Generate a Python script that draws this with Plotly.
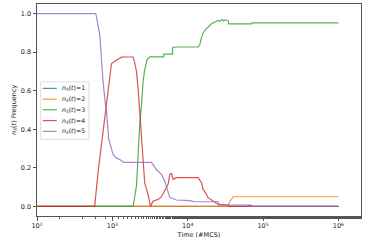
import plotly.graph_objects as go

# ---- data (time in MCS, frequency) ----
labels = ["1", "2", "3", "4", "5"]
colors = ["#1f77b4", "#ff7f0e", "#2ca02c", "#d62728", "#9467bd"]

t1 = [1, 1000000]
f1 = [0, 0]

t2 = [1, 34435, 36224, 38194, 40087, 1000000]
f2 = [0, 0, 0.027, 0.036, 0.05, 0.05]

t3 = [1, 1884, 2089, 2193, 2312, 2432, 2559, 2692, 2891, 3141, 4819, 4830, 6281, 6290,
      6745, 13740, 14488, 15240, 16032, 17219, 18664, 20701, 22909, 25351, 27000, 28500,
      30000, 32000, 34435, 35000, 70307, 71000, 1000000]
f3 = [0, 0, 0.105, 0.278, 0.43, 0.52, 0.65, 0.71, 0.76, 0.776, 0.776, 0.79, 0.79, 0.822,
      0.827, 0.827, 0.84, 0.874, 0.90, 0.917, 0.931, 0.947, 0.957, 0.965, 0.96, 0.97,
      0.962, 0.968, 0.963, 0.947, 0.947, 0.952, 0.952]

t4 = [1, 583, 646, 701, 729, 776, 817, 836, 923, 973, 1076, 1191, 1321, 1538, 1884, 1982,
      2089, 2193, 2312, 2382, 2512, 2692, 2979, 3206, 3467, 4046, 4487, 4966, 5495, 5781,
      6095, 6397, 7096, 13740, 15240, 16032, 17219, 18664, 20701, 22909, 25351, 34435,
      35500, 63387, 64000, 70307, 71000, 1000000]
f4 = [0, 0, 0.176, 0.287, 0.33, 0.416, 0.50, 0.53, 0.68, 0.74, 0.753, 0.762, 0.774, 0.775,
      0.775, 0.745, 0.70, 0.615, 0.49, 0.416, 0.243, 0.12, 0.062, 0.0, 0.027, 0.036, 0.05,
      0.08, 0.114, 0.166, 0.17, 0.14, 0.149, 0.149, 0.123, 0.088, 0.071, 0.045, 0.033,
      0.019, 0.01, 0.007, 0.0, 0.0, 0.005, 0.005, 0, 0]

t5 = [1, 603, 681, 716, 752, 809, 836, 895, 1021, 1132, 1253, 1429, 3304, 3855, 4487, 4966,
      5495, 5781, 7096, 10666, 12000, 25351, 26000, 63387, 64500, 1000000]
f5 = [1.0, 1.0, 0.89, 0.74, 0.65, 0.53, 0.49, 0.35, 0.27, 0.25, 0.243, 0.228, 0.228, 0.19,
      0.166, 0.13, 0.08, 0.047, 0.033, 0.03, 0.025, 0.024, 0.007, 0.007, 0, 0]

series_t = [t1, t2, t3, t4, t5]
series_f = [f1, f2, f3, f4, f5]

x_ticks = [100, 1000, 10000, 100000, 1000000]
x_ticktext = ["10<sup>2</sup>", "10<sup>3</sup>", "10<sup>4</sup>", "10<sup>5</sup>", "10<sup>6</sup>"]
y_ticks = [0.0, 0.2, 0.4, 0.6, 0.8, 1.0]
y_ticktext = ["0.0", "0.2", "0.4", "0.6", "0.8", "1.0"]

FONT = "DejaVu Sans"
fig = go.Figure()
for t, f, c in zip(series_t, series_f, colors):
    fig.add_trace(go.Scatter(x=t, y=f, mode="lines", line=dict(color=c, width=1.2),
                             opacity=0.8, showlegend=False, hoverinfo="skip"))

fig.update_layout(
    width=368, height=243,
    margin=dict(l=37, r=7, t=4, b=27),
    paper_bgcolor="white", plot_bgcolor="white",
    font=dict(family=FONT, size=6.5, color="#222"),
    showlegend=False,
)
fig.update_xaxes(type="log", range=[2, 6.3], showgrid=False, zeroline=False,
                 showline=True, mirror=True, linecolor="#555", linewidth=1,
                 ticks="outside", ticklen=3.5, tickcolor="#555", tickwidth=0.8,
                 tickvals=x_ticks, ticktext=x_ticktext,
                 minor=dict(ticks="outside", ticklen=2, tickcolor="#555", tickwidth=0.6,
                            showgrid=False),
                 tickfont=dict(size=6.5, family=FONT, color="#222"),
                 title=dict(text="Time (#MCS)", standoff=3,
                            font=dict(size=6.5, family=FONT, color="#222")),
                 automargin=False)
fig.update_yaxes(range=[-0.05, 1.05], showgrid=False, zeroline=False,
                 showline=True, mirror=True, linecolor="#555", linewidth=1,
                 ticks="outside", ticklen=3.5, tickcolor="#555", tickwidth=0.8,
                 tickvals=y_ticks, ticktext=y_ticktext,
                 tickfont=dict(size=6.5, family=FONT, color="#222"),
                 automargin=False)

fig.add_annotation(text="<i>n<sub>S</sub></i>(<i>t</i>) Frequency", xref="paper", yref="paper",
                   x=-0.071, y=0.5, textangle=-90, showarrow=False,
                   xanchor="center", yanchor="middle",
                   font=dict(size=6.5, family=FONT, color="#222"))

# manual legend (matplotlib style)
lx0, lx1, ly0, ly1 = 0.0114, 0.160, 0.361, 0.633
fig.add_shape(type="rect", xref="paper", yref="paper", x0=lx0, x1=lx1, y0=ly0, y1=ly1,
              line=dict(color="#d5d5d5", width=0.8), fillcolor="rgba(255,255,255,0.8)",
              layer="above")
entry_y = [0.602, 0.551, 0.501, 0.450, 0.399]
for lab, c, yy in zip(labels, colors, entry_y):
    fig.add_shape(type="line", xref="paper", yref="paper", x0=0.0176, x1=0.0608, y0=yy, y1=yy,
                  line=dict(color=c, width=1.2), opacity=0.8, layer="above")
    fig.add_annotation(text="<i>n<sub>S</sub></i>(<i>t</i>)=" + lab, xref="paper", yref="paper",
                       x=0.072, y=yy, showarrow=False, xanchor="left", yanchor="middle",
                       font=dict(size=6.2, family=FONT, color="#222"))

fig.write_html("out.html", config={"displayModeBar": False},
               post_script="document.body.style.margin='0';")
